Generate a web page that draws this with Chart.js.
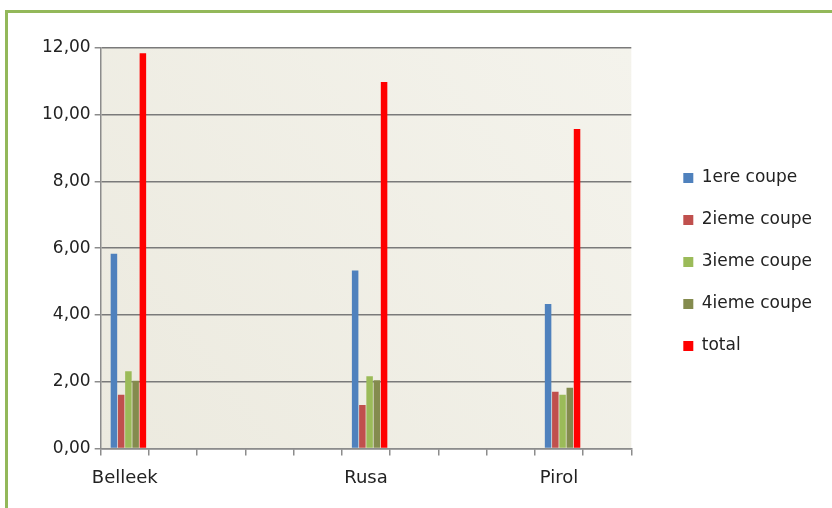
<!DOCTYPE html>
<html>
<head>
<meta charset="utf-8">
<script src="https://cdn.jsdelivr.net/npm/chart.js@4.4.1/dist/chart.umd.min.js"></script>
<style>
    html, body {
        margin: 0;
        padding: 0;
        background: #ffffff;
        overflow: hidden;
    }
    .chart-box {
        position: relative;
        width: 832px;
        height: 508px;
    }
    .frame {
        position: absolute;
        left: 5px;
        top: 10px;
        width: 900px;
        height: 600px;
        border: 3px solid #93b85a;
        pointer-events: none;
    }
</style>
</head>
<body>
<div class="chart-box">
    <canvas id="coupeChart" width="832" height="508"></canvas>
    <div class="frame"></div>
</div>
<script>
// categories (empty slots are the unused ticks of the x axis)
const categories = ['Belleek', '', '', '', '', 'Rusa', '', '', '', 'Pirol', ''];

const premiereCoupe  = [5.83, null, null, null, null, 5.33, null, null, null, 4.33, null];
const deuxiemeCoupe  = [1.61, null, null, null, null, 1.30, null, null, null, 1.70, null];
const troisiemeCoupe = [2.31, null, null, null, null, 2.16, null, null, null, 1.61, null];
const quatriemeCoupe = [2.03, null, null, null, null, 2.04, null, null, null, 1.82, null];
const totalCoupe     = [11.84, null, null, null, null, 10.98, null, null, null, 9.57, null];

// empty slot in front of each group (the original is a 3d chart, bars sit right of centre)
const emptySlot = categories.map(() => null);

const yTicks = [0, 2, 4, 6, 8, 10, 12];

const plotBackground = {
    id: 'plotBackground',
    beforeDraw(chart) {
        const {ctx, chartArea} = chart;
        const g = ctx.createLinearGradient(chartArea.left, chartArea.bottom, chartArea.right, chartArea.top);
        g.addColorStop(0, '#eceadf');
        g.addColorStop(1, '#f4f3ec');
        ctx.save();
        ctx.fillStyle = g;
        ctx.fillRect(chartArea.left, chartArea.top, chartArea.right - chartArea.left, chartArea.bottom - chartArea.top);
        ctx.restore();
    }
};

Chart.defaults.font.family = '"DejaVu Sans", sans-serif';
Chart.defaults.color = '#222222';

const ctx = document.getElementById('coupeChart').getContext('2d');
new Chart(ctx, {
    type: 'bar',
    data: {
        labels: categories,
        datasets: [
            { label: '', data: emptySlot, backgroundColor: 'transparent' },
            { label: '1ere coupe', data: premiereCoupe, backgroundColor: '#4f81bd' },
            { label: '2ieme coupe', data: deuxiemeCoupe, backgroundColor: '#c0504d' },
            { label: '3ieme coupe', data: troisiemeCoupe, backgroundColor: '#9bbb59' },
            { label: '4ieme coupe', data: quatriemeCoupe, backgroundColor: '#848b4e' },
            { label: 'total', data: totalCoupe, backgroundColor: '#ff0000' }
        ]
    },
    options: {
        responsive: false,
        animation: false,
        layout: {
            padding: { left: 38, top: 23, right: 10, bottom: 7 }
        },
        datasets: {
            bar: {
                categoryPercentage: 0.9,
                barPercentage: 0.9,
                skipNull: false
            }
        },
        plugins: {
            // blank strip above the plot so the legend centres a bit higher
            title: {
                display: true,
                text: '',
                fullSize: false,
                padding: { top: 0, bottom: 10.6 }
            },
            legend: {
                position: 'right',
                labels: {
                    boxWidth: 10,
                    boxHeight: 10,
                    padding: 25,
                    font: { size: 17 },
                    filter: item => item.text !== ''
                }
            },
            tooltip: { enabled: false }
        },
        scales: {
            x: {
                grid: {
                    offset: true,
                    drawOnChartArea: false,
                    tickLength: 7,
                    color: '#8c8c8c',
                    lineWidth: 1.5
                },
                border: { color: '#8c8c8c', width: 1.5 },
                ticks: {
                    autoSkip: false,
                    maxRotation: 0,
                    padding: 12,
                    font: { size: 18 }
                }
            },
            y: {
                min: 0,
                max: 12,
                afterBuildTicks(scale) {
                    scale.ticks = yTicks.map(v => ({ value: v }));
                },
                grid: {
                    color: '#7a7a7a',
                    lineWidth: 1.5,
                    tickLength: 6,
                    tickColor: '#8c8c8c'
                },
                border: { color: '#8c8c8c', width: 1.5 },
                ticks: {
                    padding: 4,
                    font: { size: 17 },
                    callback: v => v.toFixed(2).replace('.', ',')
                }
            },
            // empty space between the plot and the legend
            gap: {
                type: 'linear',
                position: 'right',
                display: false,
                afterFit(scale) {
                    scale.width = 27;
                }
            }
        }
    },
    plugins: [plotBackground]
});
</script>
</body>
</html>
